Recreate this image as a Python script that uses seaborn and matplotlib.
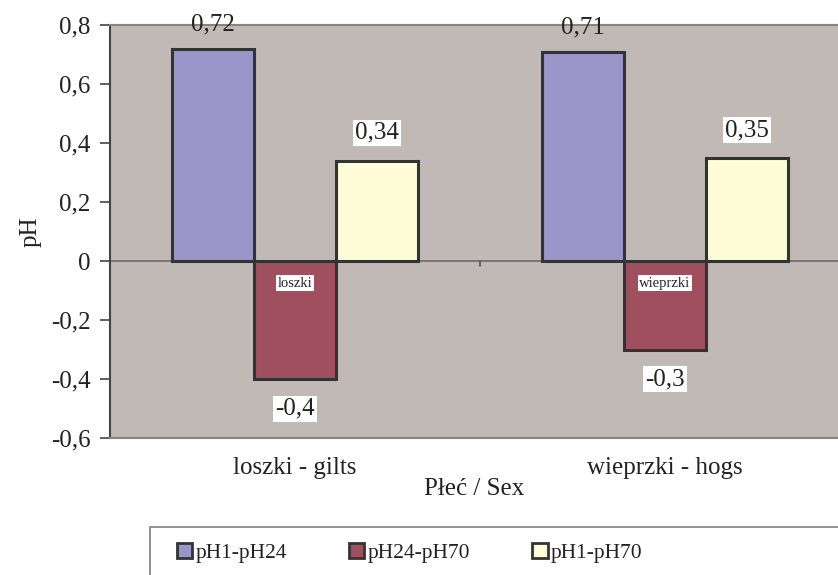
import matplotlib
matplotlib.use("Agg")
import matplotlib.pyplot as plt
import matplotlib.patches as mpatches
from matplotlib.ticker import FuncFormatter, FixedLocator
import seaborn as sns
import pandas as pd

# Data
sex_groups = ["loszki - gilts", "wieprzki - hogs"]
inner_labels = ["loszki", "wieprzki"]
series_names = ["pH1-pH24", "pH24-pH70", "pH1-pH70"]
diff_ph1_ph24 = [0.72, 0.71]
diff_ph24_ph70 = [-0.4, -0.3]
diff_ph1_ph70 = [0.34, 0.35]
y_ticks = [-0.6, -0.4, -0.2, 0.0, 0.2, 0.4, 0.6, 0.8]

colors = ["#9B95C9", "#A04F5F", "#FFFCD8"]
plot_bg = "#C1B9B6"
edge = "#333333"
FS = 18

rows = []
for name, vals in zip(series_names, [diff_ph1_ph24, diff_ph24_ph70, diff_ph1_ph70]):
    for g, v in zip(sex_groups, vals):
        rows.append({"sex": g, "series": name, "value": v})
df = pd.DataFrame(rows)

sns.set_theme(style="white")
plt.rcParams["font.family"] = ["Liberation Serif", "DejaVu Serif"]
plt.rcParams["text.color"] = "#222222"

fig = plt.figure(figsize=(8.38, 5.75), dpi=100)
W, H = 838, 575
ax = fig.add_axes([110 / W, 1 - 438 / H, (838 - 110) / W, (438 - 25) / H])
ax.set_facecolor(plot_bg)

sns.barplot(data=df, x="sex", y="value", hue="series", hue_order=series_names,
            order=sex_groups, palette=colors, width=0.665, edgecolor=edge,
            linewidth=2.2, saturation=1, ax=ax, legend=False, zorder=3)

ax.set_xlim(-0.5, 1.5 - 12 / 370)
ax.set_ylim(-0.6, 0.8)

# zero line with category separator tick
ax.axhline(0, color="#6E6868", lw=1.2, zorder=2)
ax.plot([0.5, 0.5], [0, -0.018], color="#555555", lw=1.2, zorder=2)

# spines
ax.spines["right"].set_visible(False)
ax.spines["top"].set_color("#8C817E")
ax.spines["bottom"].set_color("#8C817E")
ax.spines["left"].set_color("#444444")
for s in ["top", "bottom", "left"]:
    ax.spines[s].set_linewidth(1.5)

ax.yaxis.set_major_locator(FixedLocator(y_ticks))
ax.yaxis.set_major_formatter(FuncFormatter(
    lambda v, p: "0" if abs(v) < 1e-9 else f"{v:.1f}".replace(".", ",")))
ax.tick_params(axis="y", which="major", left=True, length=7, width=1.2,
               color="#444444", pad=7, labelsize=FS, labelcolor="#222222")
ax.tick_params(axis="x", bottom=False, pad=8, labelsize=FS, labelcolor="#222222")
ax.set_xlabel("Płeć / Sex", fontsize=FS, labelpad=-1, color="#222222")
ax.set_ylabel("pH", fontsize=FS, color="#222222")
ax.yaxis.set_label_coords(-68 / 728, 0.5)

# value labels
for cont in ax.containers:
    for rect in cont:
        v = rect.get_height()
        x = rect.get_x() + rect.get_width() / 2
        txt = f"{v:g}".replace(".", ",")
        if v > 0.6:
            off, box = 17.5, None
        elif v >= 0:
            off, box = 20, dict(facecolor="white", edgecolor="none", pad=1.5)
        else:
            off, box = -21.5, dict(facecolor="white", edgecolor="none", pad=1.5)
        ax.annotate(txt, (x, v), xytext=(0, off), textcoords="offset points",
                    ha="center", va="center", fontsize=FS, bbox=box,
                    annotation_clip=False, zorder=5)

# group names on the negative bars
mid = ax.containers[1]
for rect, name in zip(mid, inner_labels):
    x = rect.get_x() + rect.get_width() / 2
    ax.annotate(name, (x, 0), xytext=(0, -16), textcoords="offset points",
                ha="center", va="center", fontsize=10.5,
                bbox=dict(facecolor="white", edgecolor="none", pad=1.0), zorder=5)

# legend box
frame = mpatches.Rectangle((150 / W, 1 - 600 / H), 720 / W, (600 - 527) / H,
                           transform=fig.transFigure, facecolor="white",
                           edgecolor="#7F7F7F", linewidth=1.2, zorder=1)
fig.patches.append(frame)
handles = [mpatches.Patch(facecolor=c, edgecolor=edge, linewidth=2) for c in colors]
leg = fig.legend(handles, series_names, loc="center left",
                 bbox_to_anchor=(177 / W, 1 - 553 / H),
                 ncol=3, fontsize=15.5, frameon=False,
                 handlelength=0.7, handleheight=0.7, handletextpad=0.15,
                 borderpad=0, borderaxespad=0, columnspacing=2.9)

fig.savefig("out.png", dpi=100, facecolor="white")
